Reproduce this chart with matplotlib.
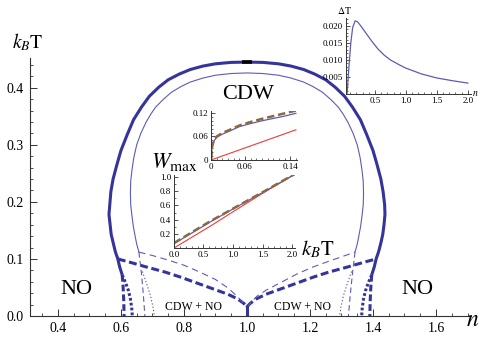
import matplotlib
matplotlib.use("Agg")
import matplotlib.pyplot as plt

plt.rcParams['font.family'] = ['Liberation Serif', 'DejaVu Serif']
plt.rcParams['mathtext.fontset'] = 'stix'

# --- phase diagram (n, kBT) ---
# outer boundary, thick solid
outer_n = [0.604, 0.596, 0.590, 0.582, 0.569, 0.562, 0.568, 0.575, 0.587, 0.600, 0.620, 0.640, 0.665,
           0.690, 0.720, 0.750, 0.785, 0.820, 0.860, 0.900, 0.950,
           1.000, 1.050, 1.100, 1.140, 1.180, 1.215, 1.250, 1.280, 1.310, 1.335, 1.360, 1.380, 1.400,
           1.413, 1.425, 1.432, 1.437, 1.438, 1.435, 1.431, 1.425, 1.418, 1.410, 1.404, 1.396]
outer_T = [0.072, 0.086, 0.100, 0.113, 0.143, 0.178, 0.218, 0.240, 0.265, 0.290, 0.318, 0.344, 0.366,
           0.385, 0.401, 0.414, 0.424, 0.432, 0.438, 0.442, 0.4445,
           0.445, 0.4445, 0.442, 0.438, 0.432, 0.424, 0.414, 0.401, 0.385, 0.366, 0.344, 0.318, 0.290,
           0.265, 0.240, 0.218, 0.195, 0.178, 0.160, 0.143, 0.128, 0.113, 0.100, 0.086, 0.072]
# inner boundary, thin solid
inner_n = [0.657, 0.650, 0.645, 0.639, 0.635, 0.631, 0.630, 0.631, 0.635, 0.641, 0.650, 0.663, 0.680,
           0.695, 0.710, 0.735, 0.760, 0.790, 0.820, 0.860, 0.900, 0.950,
           1.000, 1.050, 1.100, 1.140, 1.180, 1.210, 1.240, 1.265, 1.290, 1.305, 1.320, 1.337, 1.350,
           1.359, 1.365, 1.369, 1.370, 1.369, 1.365, 1.361, 1.355, 1.350, 1.343]
inner_T = [0.112, 0.126, 0.140, 0.158, 0.175, 0.195, 0.215, 0.236, 0.256, 0.278, 0.300, 0.320, 0.340,
           0.354, 0.366, 0.380, 0.392, 0.402, 0.410, 0.417, 0.422, 0.425,
           0.426, 0.425, 0.422, 0.417, 0.410, 0.402, 0.392, 0.380, 0.366, 0.354, 0.340, 0.320, 0.300,
           0.278, 0.256, 0.236, 0.215, 0.195, 0.175, 0.158, 0.140, 0.126, 0.112]
# lower thick dashed line (left and right branches)
lowL_n = [0.590, 0.630, 0.680, 0.740, 0.790, 0.850, 0.900, 0.940, 0.970, 0.990, 1.000]
lowL_T = [0.100, 0.094, 0.086, 0.077, 0.068, 0.056, 0.046, 0.038, 0.030, 0.022, 0.016]
lowR_n = [1.000, 1.010, 1.030, 1.060, 1.100, 1.150, 1.210, 1.260, 1.320, 1.370, 1.410]
lowR_T = [0.016, 0.022, 0.030, 0.038, 0.046, 0.056, 0.068, 0.077, 0.086, 0.094, 0.100]
# upper thin dashed line
upL_n = [0.657, 0.700, 0.750, 0.800, 0.850, 0.900, 0.940, 0.970, 0.990, 1.000]
upL_T = [0.112, 0.106, 0.098, 0.089, 0.077, 0.064, 0.049, 0.034, 0.022, 0.014]
upR_n = [1.000, 1.010, 1.030, 1.060, 1.105, 1.160, 1.210, 1.270, 1.343]
upR_T = [0.014, 0.022, 0.034, 0.045, 0.058, 0.074, 0.086, 0.098, 0.112]
# near-vertical branches down to T = 0
thkdashL_n = [0.604, 0.607, 0.609, 0.610]
thkdashL_T = [0.072, 0.050, 0.025, 0.000]
thkdashR_n = [1.396, 1.393, 1.391, 1.390]
thkdashR_T = [0.072, 0.050, 0.025, 0.000]
thkdotL_n = [0.604, 0.615, 0.624, 0.630, 0.634, 0.636]
thkdotL_T = [0.072, 0.058, 0.044, 0.030, 0.015, 0.000]
thkdotR_n = [1.396, 1.385, 1.376, 1.370, 1.366, 1.364]
thkdotR_T = [0.072, 0.058, 0.044, 0.030, 0.015, 0.000]
thndashL_n = [0.657, 0.665, 0.671, 0.676]
thndashL_T = [0.112, 0.075, 0.038, 0.000]
thndashR_n = [1.343, 1.335, 1.328, 1.322]
thndashR_T = [0.112, 0.075, 0.038, 0.000]
thndotL_n = [0.668, 0.682, 0.694, 0.702, 0.706]
thndotL_T = [0.078, 0.056, 0.035, 0.015, 0.000]
thndotR_n = [1.332, 1.318, 1.306, 1.298, 1.294]
thndotR_T = [0.078, 0.056, 0.035, 0.015, 0.000]
cusp_n = [1.0, 1.0]
cusp_T = [0.016, 0.0]
top_n = [0.985, 1.015]
top_T = [0.4449, 0.4449]

# --- inset: Delta T vs n ---
dT_n = [0.05, 0.08, 0.11, 0.14, 0.18, 0.22, 0.28, 0.35, 0.45, 0.55, 0.65, 0.75, 0.90, 1.00,
        1.25, 1.50, 1.75, 2.00]
dT_v = [0.0, 0.008, 0.015, 0.0195, 0.0215, 0.0212, 0.0198, 0.0180, 0.0155, 0.0132, 0.0114,
        0.0100, 0.0085, 0.0076, 0.0059, 0.0047, 0.0039, 0.0032]

# --- inset: W_max at low T ---
w1_T = [0.0, 0.001, 0.003, 0.006, 0.01, 0.02, 0.03, 0.05, 0.07, 0.09, 0.11, 0.13, 0.15]
w1_blue = [0.0, 0.025, 0.040, 0.050, 0.058, 0.066, 0.072, 0.085, 0.093, 0.100, 0.106, 0.112, 0.119]
w1_brown = [0.0, 0.026, 0.041, 0.052, 0.060, 0.069, 0.075, 0.088, 0.097, 0.105, 0.112, 0.119, 0.126]
w1_red_T = [0.0, 0.15]
w1_red = [0.0, 0.077]

# --- inset: W_max up to kBT = 2 ---
w2_T = [0.0, 0.3, 0.6, 1.0, 1.5, 2.05]
w2_blue = [0.06, 0.21, 0.36, 0.55, 0.78, 1.04]
w2_brown = [0.07, 0.22, 0.37, 0.555, 0.785, 1.045]
w2_red = [0.0, 0.15, 0.30, 0.51, 0.77, 1.04]

dark = '#34349a'
light = '#5c5cb4'
brown = '#8a6a40'
red = '#f03a3a'

fig = plt.figure(figsize=(4.81, 3.38), dpi=100)
ax = fig.add_axes([0.0615, 0.0651, 0.917, 0.763])
ax.set_xlim(0.31, 1.71)
ax.set_ylim(0, 0.452)

thick = 2.2
thin = 0.8
ax.plot(outer_n, outer_T, color=dark, lw=thick, solid_capstyle='butt', solid_joinstyle='round')
ax.plot(inner_n, inner_T, color=light, lw=thin)
ax.plot(lowL_n, lowL_T, color=dark, lw=thick, dashes=(2.6, 1.2))
ax.plot(lowR_n, lowR_T, color=dark, lw=thick, dashes=(2.6, 1.2))
ax.plot(upL_n, upL_T, color=light, lw=thin, dashes=(6, 4))
ax.plot(upR_n, upR_T, color=light, lw=thin, dashes=(6, 4))
for xs, ys in [(thkdashL_n, thkdashL_T), (thkdashR_n, thkdashR_T)]:
    ax.plot(xs, ys, color=dark, lw=thick, dashes=(2.2, 1.0))
for xs, ys in [(thkdotL_n, thkdotL_T), (thkdotR_n, thkdotR_T)]:
    ax.plot(xs, ys, color=dark, lw=thick, dashes=(0.9, 0.7))
for xs, ys in [(thndashL_n, thndashL_T), (thndashR_n, thndashR_T)]:
    ax.plot(xs, ys, color=light, lw=thin, dashes=(5, 3))
for xs, ys in [(thndotL_n, thndotL_T), (thndotR_n, thndotR_T)]:
    ax.plot(xs, ys, color=light, lw=thin, dashes=(1.2, 1.8))
ax.plot(cusp_n, cusp_T, color=dark, lw=thick)
ax.plot(top_n, top_T, color='black', lw=2.6, solid_capstyle='butt')

for s in ['top', 'right']:
    ax.spines[s].set_visible(False)
for s in ['left', 'bottom']:
    ax.spines[s].set_color('#333333')
    ax.spines[s].set_linewidth(0.8)
ax.set_xticks([0.4, 0.6, 0.8, 1.0, 1.2, 1.4, 1.6])
ax.set_xticks([x / 100 for x in range(35, 171, 5)], minor=True)
ax.set_yticks([0.0, 0.1, 0.2, 0.3, 0.4])
ax.set_yticks([y / 100 for y in range(2, 45, 2)], minor=True)
ax.tick_params(which='major', direction='in', length=5, width=0.7, labelsize=10, color='#333333', pad=4)
ax.tick_params(which='minor', direction='in', length=2.5, width=0.6, color='#333333')

ax.text(1.003, 0.389, 'CDW', fontsize=16, ha='center', va='center')
ax.text(0.46, 0.047, 'NO', fontsize=16, ha='center', va='center')
ax.text(1.54, 0.046, 'NO', fontsize=16, ha='center', va='center')
ax.text(0.829, 0.016, 'CDW + NO', fontsize=8.5, ha='center', va='center')
ax.text(1.175, 0.016, 'CDW + NO', fontsize=8.5, ha='center', va='center')
fig.text(0.058, 0.876, r'$k_B\mathrm{T}$', fontsize=14, ha='center', va='center')
fig.text(0.968, 0.053, r'$n$', fontsize=17, ha='left', va='center')

# inset: Delta T
a1 = fig.add_axes([0.719, 0.722, 0.260, 0.2254])
a1.plot(dT_n, dT_v, color=light, lw=0.9)
a1.set_xlim(0.03, 2.05)
a1.set_ylim(0, 0.0224)
a1.set_xticks([0.5, 1.0, 1.5, 2.0])
a1.set_xticks([x / 10 for x in range(1, 21)], minor=True)
a1.set_yticks([0.005, 0.010, 0.015, 0.020])
a1.set_yticklabels(['0.005', '0.010', '0.015', '0.020'])
a1.set_yticks([y / 1000 for y in range(1, 23)], minor=True)
fig.text(0.715, 0.970, r'$\Delta\mathrm{T}$', fontsize=7, ha='center', va='center')
fig.text(0.982, 0.722, r'$n$', fontsize=7, ha='left', va='center')

# inset: W_max, low T
a2 = fig.add_axes([0.4387, 0.5266, 0.1788, 0.1462])
a2.plot(w1_red_T, w1_red, color=red, lw=0.8)
a2.plot(w1_T, w1_blue, color=light, lw=0.9)
a2.plot(w1_T, w1_brown, color=brown, lw=1.8, dashes=(3, 1.5))
a2.plot([0, 0.0008], [0, 0.022], color='#222222', lw=1.4)
a2.set_xlim(0, 0.152)
a2.set_ylim(0, 0.126)
a2.set_xticks([0, 0.06, 0.14])
a2.set_xticklabels(['0', '0.06', '0.14'])
a2.set_xticks([x / 100 for x in range(1, 16)], minor=True)
a2.set_yticks([0, 0.06, 0.12])
a2.set_yticklabels(['0', '0.06', '0.12'])
a2.set_yticks([y / 100 for y in range(1, 13)], minor=True)

# inset: W_max, full range
a3 = fig.add_axes([0.3617, 0.2663, 0.2516, 0.2163])
a3.plot(w2_T, w2_red, color=red, lw=0.8)
a3.plot(w2_T, w2_blue, color=light, lw=0.9)
a3.plot(w2_T, w2_brown, color=brown, lw=1.8, dashes=(3, 1.5))
a3.set_xlim(0, 2.05)
a3.set_ylim(0, 1.03)
a3.set_xticks([0.0, 0.5, 1.0, 1.5, 2.0])
a3.set_xticklabels(['0.0', '0.5', '1.0', '1.5', '2.0'])
a3.set_xticks([x / 10 for x in range(1, 21)], minor=True)
a3.set_yticks([0.2, 0.4, 0.6, 0.8, 1.0])
a3.set_yticks([y / 10 for y in range(1, 11)], minor=True)
fig.text(0.661, 0.262, r'$k_B\mathrm{T}$', fontsize=15, ha='center', va='center')
fig.text(0.362, 0.522, r'$W_{\mathrm{max}}$', fontsize=16, ha='center', va='center')

for a in [a1, a2, a3]:
    a.patch.set_alpha(0)
    for s in ['top', 'right']:
        a.spines[s].set_visible(False)
    for s in ['left', 'bottom']:
        a.spines[s].set_color('#333333')
        a.spines[s].set_linewidth(0.7)
    a.tick_params(which='major', direction='in', length=3, width=0.6, labelsize=6.5, pad=2,
                  color='#333333')
    a.tick_params(which='minor', direction='in', length=1.5, width=0.5, color='#333333')

fig.savefig('out.png', dpi=100)
